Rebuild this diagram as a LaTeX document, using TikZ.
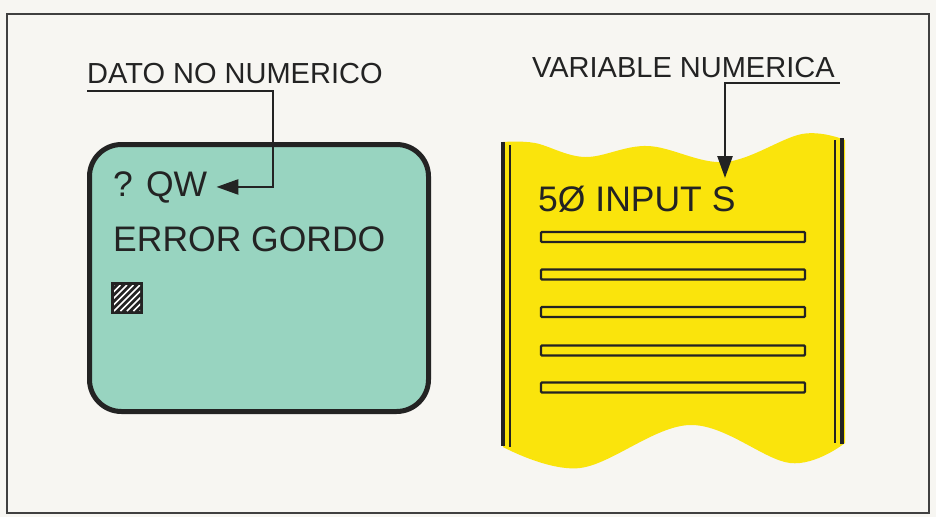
\documentclass[tikz,border=0pt]{standalone}
\usepackage{fontspec}
\setmainfont{Liberation Sans}
\usetikzlibrary{arrows.meta, positioning}

\definecolor{screenteal}{RGB}{152,212,192}
\definecolor{paperyellow}{RGB}{250,228,12}
\definecolor{inkgray}{RGB}{35,35,35}
\definecolor{pagebg}{RGB}{247,246,242}

\begin{document}
\begin{tikzpicture}[
	x=1pt, y=-1pt,
	heading/.style={inner sep=0pt, anchor=base west, text=inkgray, font=\fontsize{29}{32}\selectfont},
	crt/.style={inner sep=0pt, anchor=base west, text=inkgray, font=\fontsize{35.5}{40}\selectfont},
	pointer/.style={-{Triangle[length=22pt, width=15pt]}, line width=2.5pt, draw=inkgray},
	codebar/.style={draw=inkgray, line width=2.2pt, fill=paperyellow, rounded corners=1pt},
	rail/.style={draw=inkgray, line width=#1},
]
	% Page and frame
	\fill[pagebg] (0,0) rectangle (936,517);
	\useasboundingbox (0,0) rectangle (936,517);
	\draw[line width=1.6pt, draw=black!75] (7,14) rectangle (929,513);

	% Screen
	\node[draw=inkgray, line width=5pt, fill=screenteal, rounded corners=32pt,
		minimum width=339pt, minimum height=267pt, inner sep=0pt] (screen) at (259,278) {};
	\node[crt] (qw) at (113,196) {? QW};
	\node[crt] (error) at (113,251) {ERROR GORDO};

	% Cursor
	\fill[inkgray] (111,282) rectangle (143,314);
	\begin{scope}
		\clip (114,285) rectangle (140,311);
		\foreach \d in {0,6.5,...,58.5}
			\draw[white, line width=1.6pt] ({88+\d},311) -- ({114+\d},285);
	\end{scope}

	% Paper listing
	\fill[paperyellow] plot[smooth, tension=0.6] coordinates {(503,142) (535,143) (585,157) (648,146) (725,162) (802,134) (845,140)}
		-- plot[smooth, tension=0.6] coordinates {(845,443) (790,463) (690,425) (580,468) (503,447)} -- cycle;
	\draw[rail=4pt] (503,142) -- (503,446);
	\draw[rail=2.5pt] (510,145) -- (510,447);
	\draw[rail=2.5pt] (835,140) -- (835,443);
	\draw[rail=4pt] (842,138) -- (842,444);
	\foreach \y in {237,274.5,312,350.5,387.5}
		\draw[codebar] (541,\y-5) rectangle (805,\y+5);
	\node[crt] (input) at (538,211) {5Ø INPUT S};

	% Labels
	\node[heading] (dato) at (87,83) {DATO NO NUMERICO};
	\node[heading] (variable) at (532,77) {VARIABLE NUMERICA};

	% Arrows
	\coordinate (datoturn) at (273,91);
	\coordinate (varturn) at (725,83);
	\coordinate (inputS) at (725,178);
	\draw[pointer] ([yshift=-8pt]dato.base west) -- (datoturn) |- ([xshift=9pt]qw.east);
	\draw[pointer] ([shift={(5pt,-6pt)}]variable.base east) -- (varturn) -- (inputS);
\end{tikzpicture}
\end{document}
